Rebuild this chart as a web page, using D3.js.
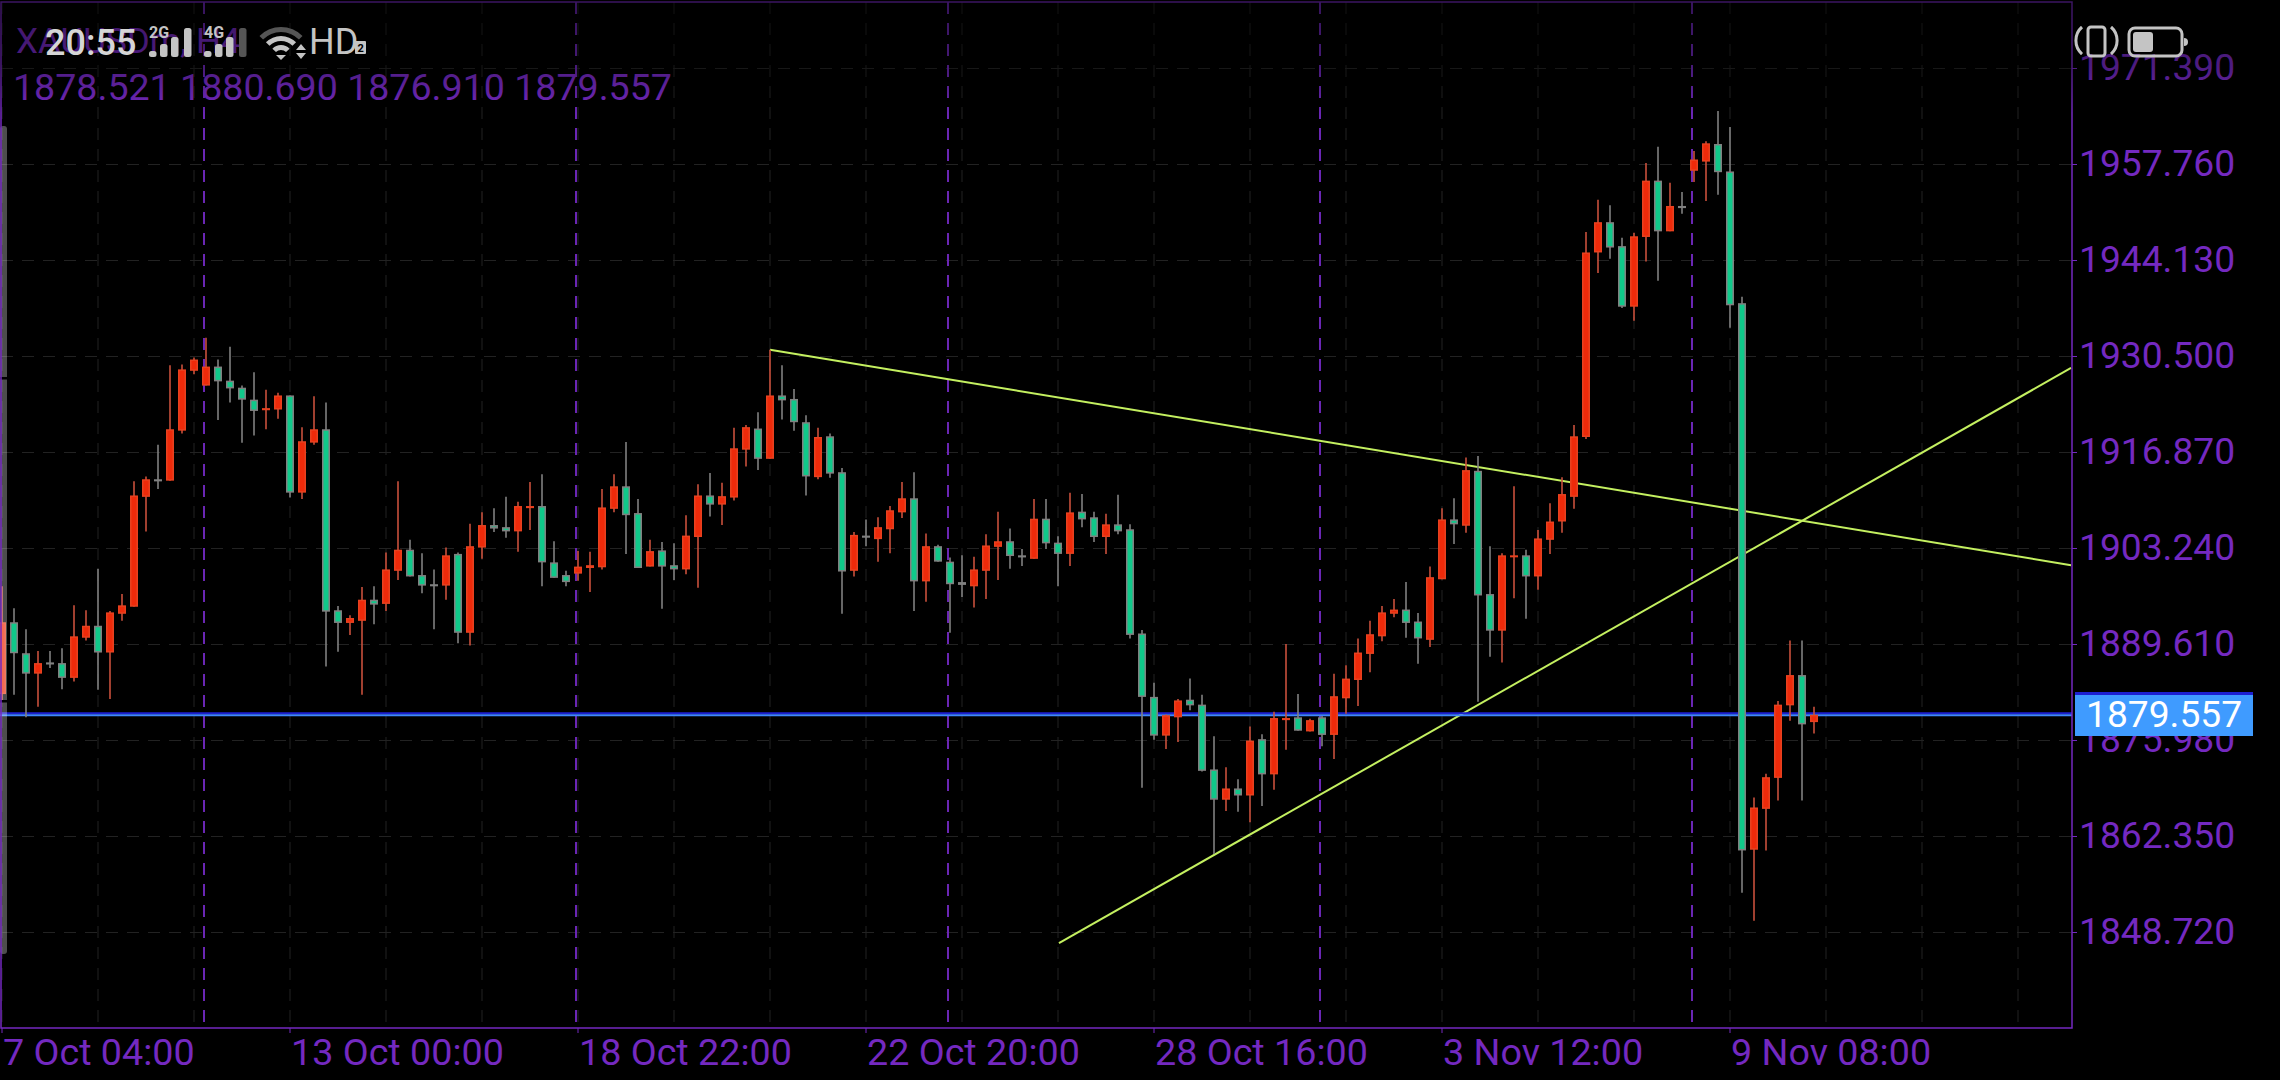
<!DOCTYPE html>
<html>
<head>
<meta charset="utf-8">
<title>XAUUSDm, H4</title>
<script src="https://cdn.jsdelivr.net/npm/d3@7"></script>
<style>
  html, body { margin: 0; padding: 0; background: #000; overflow: hidden; }
  text { font-family: Roboto, sans-serif; }
</style>
</head>
<body>
<div id="chart"></div>
<script>
// candles (4H bars, index = bar number)
const opens = [1882.5,1892.7,1888.3,1885.4,1887.0,1886.9,1884.8,1890.5,1892.2,1888.4,
  1893.9,1894.9,1910.5,1913.0,1912.8,1919.9,1928.4,1926.3,1929.0,1927.0,
  1926.0,1924.3,1922.8,1922.9,1924.9,1911.1,1918.2,1920.1,1894.4,1892.6,
  1892.9,1895.9,1895.3,1900.0,1903.0,1899.4,1898.1,1897.9,1902.4,1891.2,
  1903.3,1906.5,1906.2,1905.6,1908.9,1909.2,1901.2,1899.4,1899.6,1900.4,
  1900.5,1908.8,1912.0,1908.2,1900.6,1902.9,1900.8,1900.2,1904.8,1910.7,
  1909.4,1910.4,1917.2,1920.2,1915.9,1924.9,1924.4,1921.1,1913.3,1919.1,
  1914.0,1900.0,1905.0,1904.5,1905.9,1908.3,1910.3,1898.5,1903.5,1901.3,
  1898.4,1897.8,1900.0,1903.4,1904.2,1902.2,1901.7,1907.4,1904.0,1902.4,
  1908.4,1907.6,1904.8,1906.6,1905.9,1891.1,1882.1,1876.6,1879.2,1881.7,
  1881.0,1871.8,1867.5,1869.1,1868.1,1876.1,1871.1,1878.8,1879.2,1877.2,
  1879.2,1876.7,1881.9,1884.5,1888.2,1890.7,1893.9,1894.5,1892.8,1890.2,
  1898.8,1907.3,1906.4,1914.2,1896.7,1891.5,1902.0,1902.2,1899.2,1904.4,
  1907.0,1910.5,1919.0,1945.2,1949.5,1946.1,1937.5,1947.4,1955.4,1948.2,
  1951.8,1956.8,1958.1,1960.6,1956.7,1938.0,1860.4,1866.2,1870.6,1880.9,
  1885.2,1878.521];
const highs = [1897.8,1894.7,1891.7,1888.6,1888.6,1889.0,1895.1,1894.4,1900.3,1894.3,
  1896.7,1912.7,1913.4,1917.9,1929.2,1929.3,1930.3,1933.1,1930.0,1931.8,
  1926.3,1928.2,1925.7,1925.3,1924.9,1920.4,1924.8,1923.9,1895.0,1893.7,
  1897.7,1897.8,1902.6,1912.7,1904.4,1902.5,1900.2,1903.3,1902.6,1906.7,
  1908.3,1908.9,1910.5,1909.8,1912.6,1913.7,1904.2,1900.0,1902.8,1902.7,
  1911.6,1913.7,1918.3,1910.2,1904.4,1904.1,1903.9,1907.9,1912.3,1913.9,
  1912.5,1920.3,1920.7,1922.5,1931.4,1929.2,1925.8,1922.1,1920.3,1919.5,
  1914.6,1905.5,1907.3,1907.6,1909.2,1912.6,1914.0,1905.3,1903.7,1901.9,
  1902.2,1902.0,1905.2,1908.4,1906.0,1903.1,1910.2,1910.2,1904.9,1911.1,
  1910.9,1908.4,1908.1,1910.8,1906.6,1891.6,1884.1,1879.6,1881.8,1884.7,
  1882.4,1876.5,1872.1,1870.4,1877.9,1876.8,1880.0,1889.6,1882.5,1879.0,
  1879.4,1885.4,1886.6,1890.4,1892.9,1895.0,1896.0,1898.4,1894.0,1900.6,
  1908.9,1910.3,1916.1,1916.3,1903.5,1902.5,1912.0,1903.0,1905.8,1909.6,
  1913.3,1920.7,1948.1,1952.7,1951.9,1947.3,1948.0,1957.9,1960.2,1955.1,
  1953.8,1959.6,1961.0,1965.3,1963.0,1938.9,1867.8,1871.2,1881.5,1890.1,
  1890.1,1880.69];
const lows = [1881.6,1882.4,1879.2,1880.7,1886.2,1883.2,1884.3,1890.1,1883.1,1881.8,
  1892.9,1894.9,1905.6,1911.6,1912.8,1919.5,1927.9,1926.3,1921.4,1923.9,
  1918.2,1919.2,1920.1,1921.6,1910.4,1910.2,1917.9,1886.4,1888.5,1890.9,
  1882.4,1892.4,1894.3,1898.7,1899.2,1896.8,1891.7,1895.9,1889.7,1889.4,
  1901.7,1905.5,1904.7,1902.7,1905.8,1897.8,1899.0,1897.8,1898.6,1897.0,
  1900.2,1908.3,1902.4,1900.4,1900.6,1894.6,1898.7,1899.5,1897.6,1907.7,
  1906.5,1910.0,1914.8,1914.3,1915.9,1921.5,1919.9,1910.7,1913.0,1913.2,
  1893.9,1899.2,1903.5,1901.3,1902.5,1907.5,1894.3,1895.6,1901.3,1891.2,
  1896.3,1894.8,1896.0,1898.7,1900.3,1900.7,1901.7,1903.1,1897.8,1900.7,
  1906.2,1904.1,1902.4,1905.2,1890.4,1869.2,1876.0,1874.7,1875.7,1880.2,
  1871.5,1859.8,1865.9,1865.8,1864.3,1866.6,1868.9,1874.6,1877.3,1877.2,
  1875.1,1873.3,1879.7,1880.8,1885.6,1890.0,1893.4,1890.5,1886.8,1889.2,
  1898.8,1903.8,1905.4,1881.4,1887.8,1887.0,1896.1,1893.2,1897.3,1902.4,
  1905.4,1908.8,1918.7,1942.3,1944.3,1937.3,1935.5,1943.9,1941.2,1948.2,
  1950.7,1955.2,1952.5,1953.4,1934.5,1854.3,1850.3,1860.3,1867.4,1878.7,
  1867.4,1876.91];
const closes = [1892.7,1888.3,1885.4,1886.9,1886.7,1884.8,1890.7,1892.2,1888.4,1894.1,
  1895.1,1910.7,1913.0,1912.7,1920.1,1928.6,1930.0,1929.0,1926.9,1925.9,
  1924.3,1922.7,1923.1,1924.9,1911.1,1918.4,1920.1,1894.2,1892.6,1893.3,
  1895.9,1895.2,1900.2,1903.0,1899.2,1897.9,1897.8,1902.2,1891.2,1903.5,
  1906.5,1906.0,1905.6,1909.2,1909.2,1901.2,1899.0,1898.4,1900.6,1900.8,
  1909.0,1912.0,1907.9,1900.4,1902.8,1900.6,1900.2,1905.0,1910.7,1909.4,
  1910.6,1917.4,1920.4,1915.9,1924.9,1924.2,1921.1,1913.4,1919.0,1913.8,
  1899.9,1905.1,1904.7,1906.2,1908.6,1910.3,1898.5,1903.5,1901.3,1898.1,
  1898.0,1900.2,1903.6,1904.2,1902.1,1901.9,1907.4,1903.9,1902.4,1908.3,
  1907.3,1904.8,1906.6,1905.6,1890.9,1882.1,1876.6,1879.5,1881.6,1880.9,
  1871.6,1867.5,1869.1,1868.1,1875.9,1871.1,1879.1,1879.1,1877.3,1878.8,
  1876.7,1882.2,1884.7,1888.4,1891.0,1894.1,1894.5,1892.6,1890.4,1899.1,
  1907.3,1906.6,1914.3,1896.5,1891.5,1902.2,1902.2,1899.2,1904.6,1907.0,
  1910.9,1919.1,1945.2,1949.5,1945.9,1937.5,1947.5,1955.4,1948.2,1951.8,
  1951.5,1958.4,1960.7,1956.6,1937.7,1860.3,1866.4,1870.7,1881.0,1885.2,
  1878.2,1879.557];

const priceTicks = [1971.39,1957.76,1944.13,1930.5,1916.87,1903.24,1889.61,1875.98,1862.35,1848.72];
const lastPrice = 1879.557;
const title = "XAUUSDm, H4";
const ohlcText = "1878.521 1880.690 1876.910 1879.557";

const timeBars = [0,24,48,72,96,120,144];
const timeLabels = ["7 Oct 04:00","13 Oct 00:00","18 Oct 22:00","22 Oct 20:00","28 Oct 16:00","3 Nov 12:00","9 Nov 08:00"];
const separatorBars = [17,48,79,110,141];
const gridBars = d3.range(0,176,8);

// trendlines as [bar, price] ends
const fallingLine = [[64,1931.4],[172.42,1900.8]];
const risingLine = [[88.08,1847.15],[172.42,1928.8]];

function main(){
  const width = 2280, height = 1080;
  const plot = {left: 1, right: 2072, top: 2, bottom: 1028};

  const purple = "#7429c0", gridCol = "#222222", sepCol = "#6a26b4";
  const redCol = "#ee2a0a", redEdge = "#e8411f", redWick = "#c9503c";
  const greenCol = "#10c98a", greyCol = "#808080";

  var svg = d3.select("#chart")
      .append("svg")
      .attr("width", width)
      .attr("height", height)
      .style("display", "block")
      .style("background", "#000");

  const x = d3.scaleLinear().domain([0, 172.5]).range([2, 2072]);
  // 13.63 points per 96 px, anchored on the first tick
  const y = d3.scaleLinear().domain([1971.39, 1848.72]).range([68, 932]);

  // grid
  svg.append("g").selectAll("line").data(priceTicks).join("line")
    .attr("x1", plot.left).attr("x2", plot.right)
    .attr("y1", d => Math.round(y(d)) + 0.5).attr("y2", d => Math.round(y(d)) + 0.5)
    .attr("stroke", gridCol).attr("stroke-dasharray", "12,9");
  svg.append("g").selectAll("line").data(gridBars).join("line")
    .attr("x1", d => x(d)).attr("x2", d => x(d))
    .attr("y1", plot.top).attr("y2", plot.bottom)
    .attr("stroke", gridCol).attr("stroke-dasharray", "12,9");

  // period separators
  svg.append("g").selectAll("line").data(separatorBars).join("line")
    .attr("x1", d => x(d) - 2).attr("x2", d => x(d) - 2)
    .attr("y1", plot.top).attr("y2", plot.bottom)
    .attr("stroke", sepCol).attr("stroke-width", 2).attr("stroke-dasharray", "12,9");

  // trendlines
  const trend = d3.line().x(d => x(d[0])).y(d => y(d[1]));
  [fallingLine, risingLine].forEach(l => {
    svg.append("path").attr("d", trend(l))
      .attr("fill", "none").attr("stroke", "#c4f060").attr("stroke-width", 2);
  });

  // last price line, dark top edge and light lower edge
  svg.append("line").attr("x1", 0).attr("x2", plot.right)
    .attr("y1", y(lastPrice) - 1.5).attr("y2", y(lastPrice) - 1.5)
    .attr("stroke", "#1c1fd0").attr("stroke-width", 2);
  svg.append("line").attr("x1", 0).attr("x2", plot.right)
    .attr("y1", y(lastPrice) + 0.5).attr("y2", y(lastPrice) + 0.5)
    .attr("stroke", "#3f86ff").attr("stroke-width", 2);

  // candles
  const candles = d3.range(opens.length).map(i => ({i, o: opens[i], h: highs[i], l: lows[i], c: closes[i]}));
  const up = d => d.c >= d.o;

  var bars = svg.append("g").selectAll("g").data(candles).join("g");
  bars.append("line")
    .attr("x1", d => x(d.i)).attr("x2", d => x(d.i))
    .attr("y1", d => y(d.h)).attr("y2", d => y(d.l))
    .attr("stroke", d => up(d) ? redWick : greyCol)
    .attr("stroke-width", 1.6);
  // outer rect is the edge colour, inner one the fill
  bars.append("rect")
    .attr("x", d => x(d.i) - 4).attr("width", 8)
    .attr("y", d => y(Math.max(d.o, d.c)))
    .attr("height", d => Math.max(2, Math.abs(y(d.o) - y(d.c))))
    .attr("fill", d => up(d) ? redEdge : greyCol);
  bars.append("rect")
    .attr("x", d => x(d.i) - 2.5).attr("width", 5)
    .attr("y", d => y(Math.max(d.o, d.c)) + 1.5)
    .attr("height", d => Math.max(0, Math.abs(y(d.o) - y(d.c)) - 3))
    .attr("fill", d => up(d) ? redCol : greenCol);

  // left scroll handle
  svg.append("rect").attr("x", 0).attr("y", 126).attr("width", 7).attr("height", 828).attr("rx", 3)
    .attr("fill", "#fff").attr("fill-opacity", 0.3);
  [377, 700].forEach(v => svg.append("rect").attr("x", 0).attr("y", v).attr("width", 7).attr("height", 2.5).attr("fill", "#000"));

  // frame
  svg.append("path")
    .attr("d", `M${plot.left},${plot.top}H${plot.right}V${plot.bottom}H${plot.left}Z`)
    .attr("fill", "none").attr("stroke", purple).attr("stroke-width", 1.5);

  // price axis
  var yAxis = svg.append("g").selectAll("g").data(priceTicks).join("g")
    .attr("transform", d => `translate(${plot.right}, ${Math.round(y(d))})`);
  yAxis.append("line").attr("x2", 5).attr("y1", 0.5).attr("y2", 0.5).attr("stroke", purple);
  yAxis.append("text").attr("x", 7).attr("y", 12)
    .attr("font-size", 37.2).attr("fill", purple)
    .text(d => d3.format(".3f")(d));

  // time axis
  var xAxis = svg.append("g").selectAll("g").data(timeBars).join("g")
    .attr("transform", d => `translate(${x(d)}, ${plot.bottom})`);
  xAxis.append("line").attr("y2", 5).attr("stroke", purple);
  xAxis.append("text")
    .attr("x", 1).attr("y", 37)
    .attr("font-size", 37.7).attr("fill", purple)
    .text((d, i) => timeLabels[i]);

  // header
  svg.append("text").attr("x", 16).attr("y", 53).attr("font-size", 35).attr("fill", purple).text(title);
  svg.append("text").attr("x", 13).attr("y", 100).attr("font-size", 37.6).attr("fill", purple).text(ohlcText);

  // status bar scrim
  var grad = svg.append("defs").append("linearGradient").attr("id", "scrim")
    .attr("x1", 0).attr("x2", 0).attr("y1", 0).attr("y2", 1);
  grad.append("stop").attr("offset", 0).attr("stop-color", "#000").attr("stop-opacity", 0.5);
  grad.append("stop").attr("offset", 0.6).attr("stop-color", "#000").attr("stop-opacity", 0.33);
  grad.append("stop").attr("offset", 1).attr("stop-color", "#000").attr("stop-opacity", 0.02);
  svg.append("rect").attr("width", width).attr("height", 112).attr("fill", "url(#scrim)");

  statusBar(svg);

  // last price tag
  svg.append("rect").attr("x", 2075).attr("y", 692).attr("width", 178).attr("height", 44).attr("fill", "#3f9bff");
  svg.append("rect").attr("x", 2075).attr("y", 692).attr("width", 178).attr("height", 3).attr("fill", "#1c1fd0");
  svg.append("text").attr("x", 2086).attr("y", 727).attr("font-size", 37.2).attr("fill", "#fff").text(d3.format(".3f")(lastPrice));
}

// phone status bar sitting over the chart
function statusBar(svg){
  const ink = "#c4c4c4";
  var g = svg.append("g");
  g.append("text").attr("x", 45).attr("y", 55).attr("font-size", 36).attr("font-weight", 500).attr("fill", "#d6d6d6").text("20:55");

  const signal = (left, labelText, last) => {
    g.append("text").attr("x", left).attr("y", 38).attr("font-size", 16).attr("font-weight", 700).attr("fill", ink).text(labelText);
    [[0, 6], [11, 13], [22, 20], [35, 29]].forEach((b, k) => {
      g.append("rect").attr("x", left + b[0]).attr("y", 57 - b[1]).attr("width", 7.5).attr("height", b[1]).attr("rx", 2.5)
        .attr("fill", k == 3 ? last : ink);
    });
  };
  signal(149, "2G", ink);
  signal(204, "4G", "#555");

  // wifi
  const arc = r => d3.arc().innerRadius(r - 5).outerRadius(r).startAngle(-0.8).endAngle(0.8)();
  const wifi = g.append("g").attr("transform", "translate(281, 57)");
  wifi.append("path").attr("d", arc(30)).attr("fill", "#555");
  wifi.append("path").attr("d", arc(21)).attr("fill", ink);
  wifi.append("path").attr("d", arc(12)).attr("fill", ink);
  wifi.append("path").attr("d", "M-5,-2H5L0,3Z").attr("fill", ink);
  g.append("path").attr("d", "M296,50L301,44L306,50Z M296,53H306L301,59Z").attr("fill", ink);

  g.append("text").attr("x", 309).attr("y", 54).attr("font-size", 36).attr("fill", ink).text("HD");
  g.append("rect").attr("x", 355).attr("y", 41).attr("width", 11).attr("height", 13).attr("rx", 1).attr("fill", ink);
  g.append("text").attr("x", 357.5).attr("y", 52).attr("font-size", 11).attr("font-weight", 700).attr("fill", "#000").text("2");

  // rotation lock and battery
  g.append("rect").attr("x", 2088).attr("y", 27).attr("width", 17).attr("height", 29).attr("rx", 3)
    .attr("fill", "none").attr("stroke", ink).attr("stroke-width", 3);
  g.append("path").attr("d", "M2082,27A18,18 0 0 0 2082,54 M2111,27A18,18 0 0 1 2111,54")
    .attr("fill", "none").attr("stroke", ink).attr("stroke-width", 3);
  g.append("rect").attr("x", 2129).attr("y", 28).attr("width", 53).attr("height", 28).attr("rx", 6)
    .attr("fill", "none").attr("stroke", ink).attr("stroke-width", 3);
  g.append("rect").attr("x", 2133).attr("y", 32).attr("width", 20).attr("height", 20).attr("rx", 3).attr("fill", ink);
  g.append("path").attr("d", "M2184,38A4,4 0 0 1 2184,46Z").attr("fill", ink);
}

main();
</script>
</body>
</html>
